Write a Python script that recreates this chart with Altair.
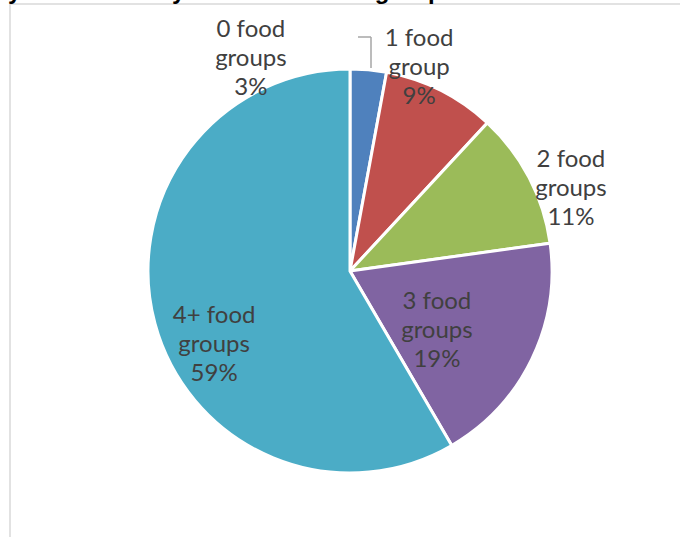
import altair as alt
import pandas as pd

# ---- data ----
categories = ["0 food groups", "1 food group", "2 food groups", "3 food groups", "4+ food groups"]
shares = [2.9, 9.0, 10.9, 18.8, 58.4]
pct_labels = ["3%", "9%", "11%", "19%", "59%"]
colors = ["#4F81BD", "#C0504D", "#9BBB59", "#8064A2", "#4BACC6"]
title_text = "Diversity of children by number of food groups"

labels = []
for c, p in zip(categories, pct_labels):
    w = c.split(" ")
    labels.append(" ".join(w[:2]) + "\n" + w[2] + "\n" + p)

df = pd.DataFrame({
    "cat": categories,
    "share": shares,
    "label": labels,
    "ord": list(range(len(categories))),
})

LABEL_FONT = "Lato"

base = alt.Chart(df).encode(
    theta=alt.Theta("share:Q", stack=True),
    order=alt.Order("ord:Q", sort="ascending"),
)

pie = base.mark_arc(outerRadius=202, stroke="white", strokeWidth=3).encode(
    color=alt.Color("cat:N", scale=alt.Scale(domain=categories, range=colors), legend=None)
)

# label placement (radius, dx, dy) per slice, like Excel's manual label positions
placement = {
    "0 food groups": (230, -120, -12),
    "1 food group": (230, -34, -26),
    "2 food groups": (230, 17, -5),
    "3 food groups": (120, -21, -21),
    "4+ food groups": (120, -20, 14),
}

text_layers = []
for cat, (r, dx, dy) in placement.items():
    text_layers.append(
        base.mark_text(
            radius=r, dx=dx, dy=dy, font=LABEL_FONT, fontSize=24, color="#404040",
            lineBreak="\n", lineHeight=29, align="center", baseline="middle",
        ).encode(
            text=alt.condition(f"datum.cat == '{cat}'", alt.Text("label:N"), alt.value(""))
        )
    )

one = alt.Chart(pd.DataFrame({"a": [0]}))
frame_top = one.mark_rule(color="#d9d9d9", strokeWidth=1.5).encode(
    x=alt.value(-10), x2=alt.value(662), y=alt.value(-1), y2=alt.value(-1)
)
frame_left = one.mark_rule(color="#d9d9d9", strokeWidth=1.5).encode(
    x=alt.value(-10), x2=alt.value(-10), y=alt.value(-1), y2=alt.value(540)
)
leader_h = one.mark_rule(color="#a6a6a6", strokeWidth=1.5).encode(
    x=alt.value(338), x2=alt.value(351), y=alt.value(32), y2=alt.value(32)
)
leader_v = one.mark_rule(color="#a6a6a6", strokeWidth=1.5).encode(
    x=alt.value(351), x2=alt.value(351), y=alt.value(32), y2=alt.value(63)
)

chart = alt.layer(frame_top, frame_left, leader_h, leader_v, pie, *text_layers).properties(
    width=660,
    height=532,
    padding={"left": 20, "top": 5, "right": 0, "bottom": 0},
    autosize=alt.AutoSizeParams(type="none"),
    background="white",
    title=alt.TitleParams(
        title_text, anchor="start", font="Liberation Sans", fontSize=24, fontWeight="bold",
        color="black", baseline="alphabetic", offset=5, dx=-88, dy=25,
    ),
).configure_view(stroke=None)

chart.save("out.html", embed_options={"renderer": "svg", "actions": False})
